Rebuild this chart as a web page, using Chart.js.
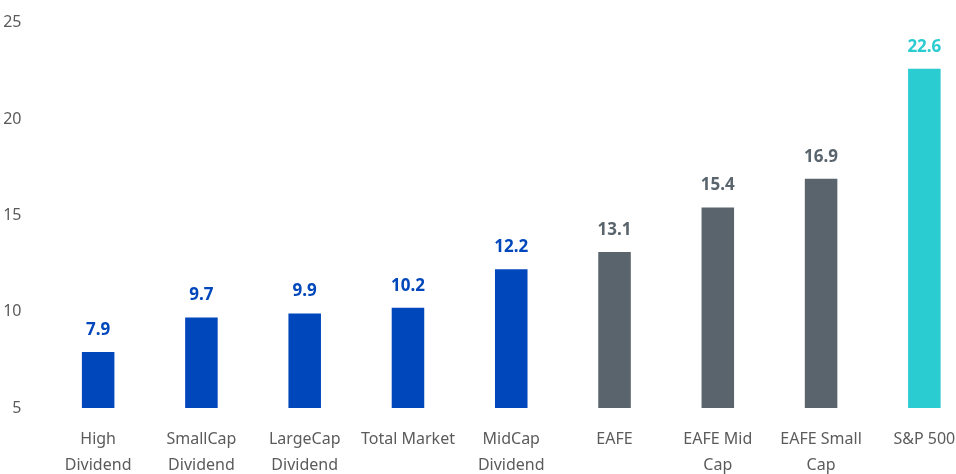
<!DOCTYPE html>
<html>
<head>
<meta charset="utf-8">
<script src="https://cdn.jsdelivr.net/npm/chart.js@4.4.1/dist/chart.umd.min.js"></script>
<style>
    html, body { margin: 0; padding: 0; background: #fff; overflow: hidden; }
    #wrap { position: absolute; left: 0; top: -4px; }
</style>
</head>
<body>
<div id="wrap"><canvas id="peChart" width="980" height="490"></canvas></div>
<script>
const categories = [
    ['High', 'Dividend'], ['SmallCap', 'Dividend'], ['LargeCap', 'Dividend'],
    'Total Market', ['MidCap', 'Dividend'], 'EAFE', ['EAFE Mid', 'Cap'],
    ['EAFE Small', 'Cap'], 'S&P 500'
];
const values = [7.9, 9.7, 9.9, 10.2, 12.2, 13.1, 15.4, 16.9, 22.6];
const groups = ['us', 'us', 'us', 'us', 'us', 'intl', 'intl', 'intl', 'sp'];
const yTicks = [5, 10, 15, 20, 25];

const groupColors = { us: '#0047BB', intl: '#59646C', sp: '#2ACBD1' };
const barColors = groups.map(g => groupColors[g]);

// draws the value above each bar, same colour as the bar
const valueLabels = {
    id: 'valueLabels',
    afterDatasetsDraw(chart) {
        const ctx = chart.ctx;
        const meta = chart.getDatasetMeta(0);
        ctx.save();
        ctx.font = 'bold 17px "Noto Sans"';
        ctx.textAlign = 'center';
        ctx.textBaseline = 'middle';
        meta.data.forEach((bar, i) => {
            ctx.fillStyle = barColors[i];
            ctx.fillText(values[i].toFixed(1), bar.x, bar.y - 22);
        });
        ctx.restore();
    }
};

const ctx = document.getElementById('peChart').getContext('2d');
new Chart(ctx, {
    type: 'bar',
    data: {
        labels: categories,
        datasets: [{
            data: values,
            backgroundColor: barColors,
            borderWidth: 0,
            barPercentage: 0.315,
            categoryPercentage: 1
        }]
    },
    options: {
        responsive: false,
        animation: false,
        layout: { padding: { top: 6, right: 4, left: 0, bottom: 0 } },
        plugins: {
            legend: { display: false },
            tooltip: { enabled: false }
        },
        scales: {
            x: {
                grid: { display: false },
                border: { display: false },
                ticks: {
                    font: { family: '"Noto Sans"', size: 16, lineHeight: 1.65 },
                    color: '#5b5b5b',
                    padding: 10,
                    autoSkip: false,
                    maxRotation: 0,
                    minRotation: 0
                },
                afterFit: (axis) => { axis.height = 78; }
            },
            y: {
                min: 5,
                max: 25,
                grid: { display: false },
                border: { display: false },
                afterBuildTicks: (axis) => { axis.ticks = yTicks.map(v => ({ value: v })); },
                ticks: {
                    font: { family: '"Noto Sans"', size: 16 },
                    color: '#5b5b5b',
                    padding: 17
                },
                afterFit: (axis) => { axis.width = 46.5; }
            }
        }
    },
    plugins: [valueLabels]
});
</script>
</body>
</html>
